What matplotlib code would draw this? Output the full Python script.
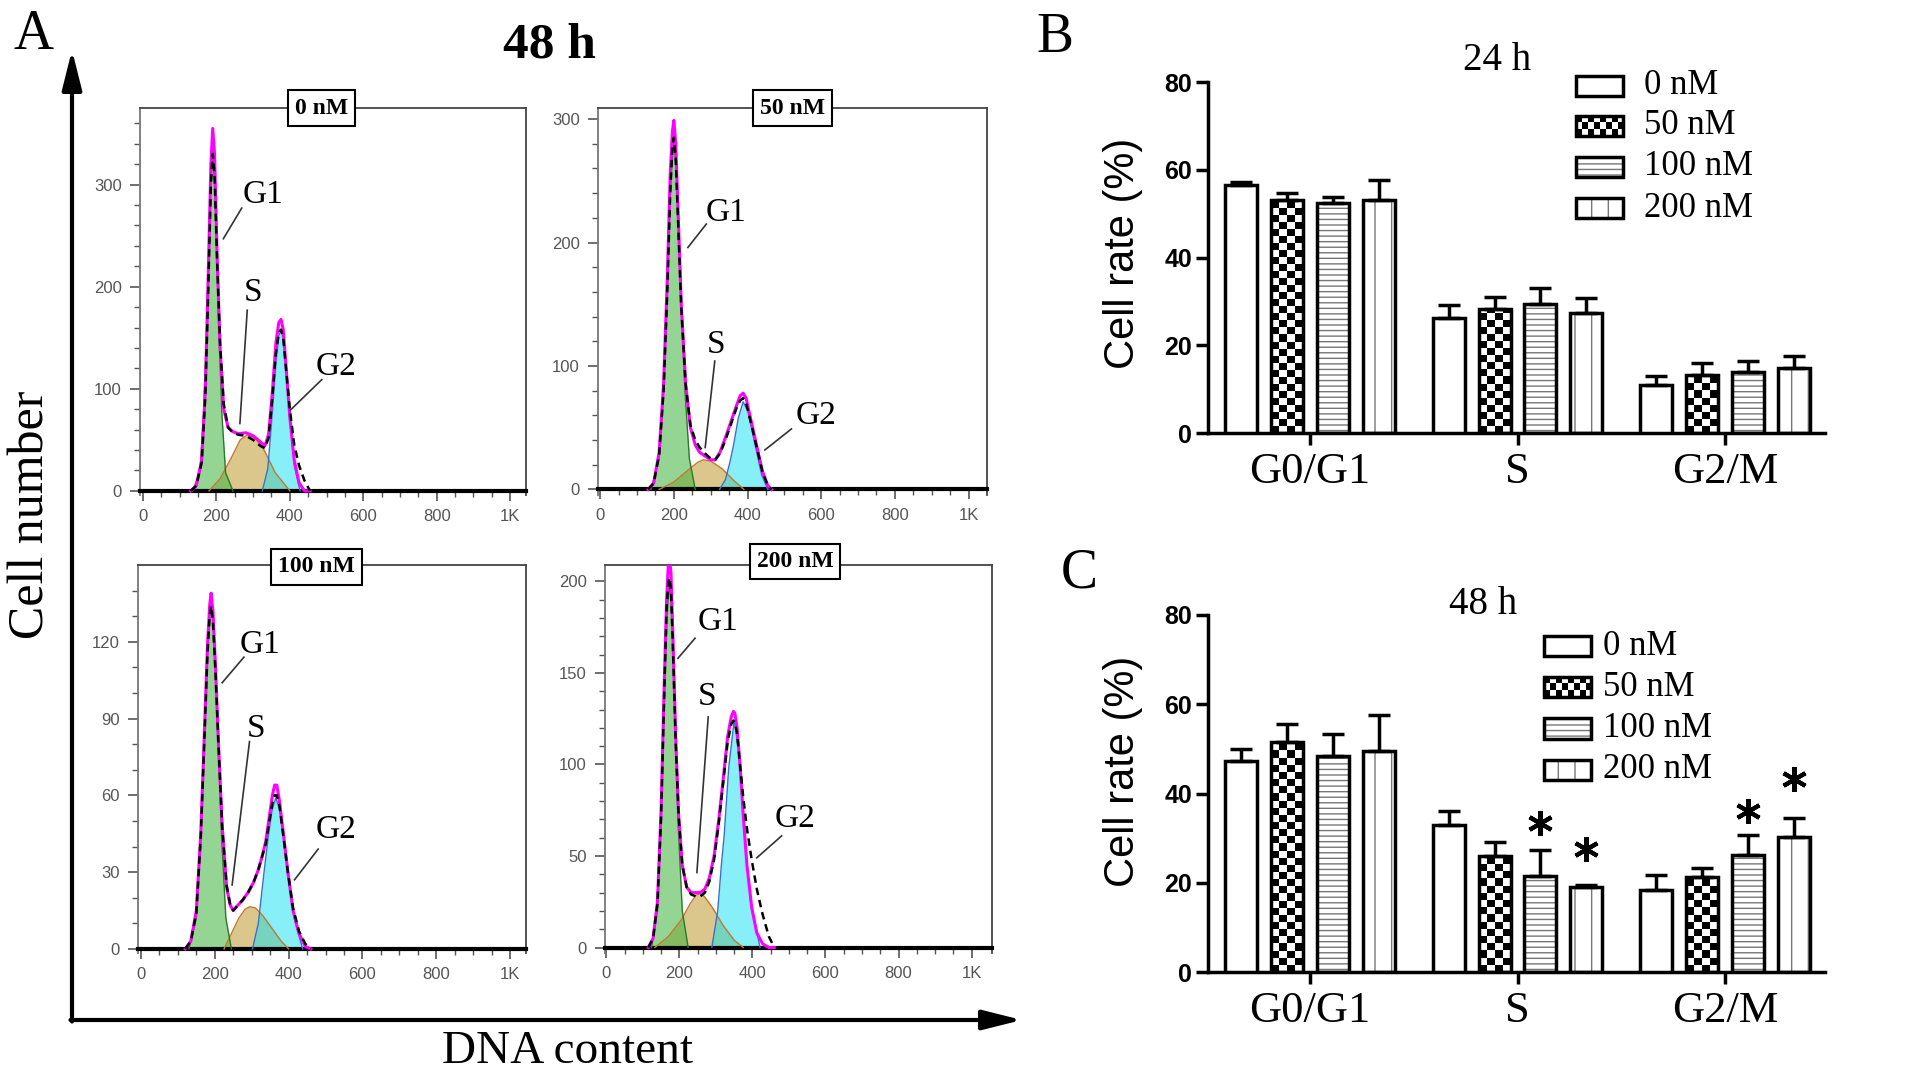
""" Cell cycle figure: flow cytometry histograms (A) and phase distribution bars (B, C) """

import numpy as np
import matplotlib.pyplot as plt
from matplotlib.patches import Rectangle

plt.rcParams['font.family'] = ['Liberation Serif', 'DejaVu Serif']
plt.rcParams['hatch.linewidth'] = 1.0
SANS = ['Liberation Sans', 'DejaVu Sans']

# ---------------- panel A: DNA histograms, 48 h ----------------
doses = ['0 nM', '50 nM', '100 nM', '200 nM']

# 0 nM
g1_x_0 = [135, 155, 165, 174, 182, 190, 198, 206, 215, 225, 245]
g1_y_0 = [0, 18, 75, 165, 280, 332, 280, 165, 75, 18, 0]
s_x_0 = [180, 210, 240, 265, 285, 305, 330, 360, 400]
s_y_0 = [0, 12, 32, 50, 55, 52, 40, 18, 0]
g2_x_0 = [325, 340, 352, 362, 370, 376, 383, 391, 400, 412, 428]
g2_y_0 = [0, 22, 75, 125, 152, 157, 148, 115, 70, 25, 0]
fit_x_0 = [130, 145, 160, 170, 178, 185, 190, 195, 202, 210, 220, 232, 245, 260, 280,
           300, 320, 332, 342, 352, 362, 370, 376, 382, 390, 400, 412, 425, 440, 455]
fit_y_0 = [0, 5, 30, 100, 215, 320, 355, 330, 230, 140, 80, 62, 58, 56, 57,
           54, 48, 44, 55, 95, 145, 165, 168, 158, 120, 72, 30, 8, 0, 0]
data_y_0 = [0, 5, 28, 95, 200, 300, 330, 310, 225, 145, 85, 62, 57, 55, 54,
            50, 44, 42, 52, 90, 135, 155, 158, 150, 118, 80, 45, 25, 10, 0]

# 50 nM
g1_x_1 = [138, 160, 172, 181, 190, 200, 210, 220, 230, 242, 258]
g1_y_1 = [0, 25, 80, 150, 240, 285, 240, 150, 80, 25, 0]
s_x_1 = [160, 200, 240, 265, 280, 300, 330, 360, 390]
s_y_1 = [0, 6, 16, 22, 24, 23, 17, 8, 0]
g2_x_1 = [324, 340, 352, 362, 375, 388, 400, 412, 422, 438, 455]
g2_y_1 = [0, 8, 22, 36, 58, 71, 64, 48, 34, 12, 0]
fit_x_1 = [130, 145, 160, 172, 182, 190, 196, 200, 205, 212, 220, 232, 245, 258, 270,
           285, 300, 312, 325, 340, 355, 370, 380, 388, 396, 410, 425, 440, 455, 465]
fit_y_1 = [0, 5, 30, 85, 170, 255, 290, 299, 280, 220, 150, 85, 50, 36, 30,
           27, 24, 24, 30, 42, 55, 68, 76, 78, 74, 55, 35, 15, 3, 0]
data_y_1 = [0, 5, 28, 80, 160, 240, 278, 285, 268, 212, 148, 85, 52, 40, 34,
            29, 25, 24, 29, 40, 53, 66, 72, 74, 70, 53, 34, 15, 3, 0]

# 100 nM
g1_x_2 = [130, 150, 162, 172, 182, 190, 198, 208, 218, 230, 245]
g1_y_2 = [0, 12, 45, 85, 122, 135, 122, 85, 45, 12, 0]
s_x_2 = [225, 245, 265, 282, 295, 310, 330, 355, 380, 400]
s_y_2 = [0, 6, 12, 15.5, 16.5, 16, 13, 8, 3, 0]
g2_x_2 = [302, 318, 333, 345, 355, 365, 375, 387, 398, 415, 438]
g2_y_2 = [0, 10, 29.5, 44, 54, 59, 55, 43, 29.5, 12, 0]
fit_x_2 = [120, 135, 150, 162, 172, 180, 186, 190, 195, 202, 210, 220, 232, 242, 250, 262, 275,
           290, 305, 318, 328, 338, 348, 356, 362, 368, 375, 385, 398, 412, 428, 445, 460]
fit_y_2 = [0, 3, 15, 45, 85, 118, 134, 139, 132, 110, 80, 48, 24, 17, 15, 17, 19,
           22, 26, 31, 36, 42, 52, 60, 64, 64, 58, 46, 30, 15, 6, 1, 0]
data_y_2 = [0, 3, 14, 44, 83, 115, 130, 134, 128, 108, 80, 48, 25, 17, 15, 17, 19,
            22, 26, 31, 36, 41, 50, 57, 60, 60, 56, 45, 30, 16, 7, 2, 0]

# 200 nM
g1_x_3 = [124, 140, 150, 158, 166, 173, 180, 188, 196, 208, 224]
g1_y_3 = [0, 20, 70, 130, 180, 200, 180, 130, 70, 20, 0]
s_x_3 = [133, 170, 205, 230, 245, 255, 268, 290, 320, 350, 375]
s_y_3 = [0, 6, 15, 24, 28.5, 29.5, 28, 22, 12, 4, 0]
g2_x_3 = [289, 305, 315, 323, 335, 350, 362, 372, 378, 395, 421]
g2_y_3 = [0, 20, 45, 62, 98, 124, 108, 80, 62, 25, 0]
fit_x_3 = [115, 128, 140, 150, 158, 165, 170, 173, 177, 183, 190, 198, 208, 220, 232, 245, 258, 270,
           282, 295, 308, 320, 332, 342, 348, 352, 358, 366, 375, 385, 398, 412, 428, 445, 460]
fit_y_3 = [0, 5, 25, 75, 140, 190, 210, 212, 205, 165, 115, 72, 45, 33, 30, 30, 30, 32,
           38, 50, 70, 92, 115, 126, 129, 128, 120, 100, 72, 45, 22, 8, 2, 0, 0]
data_y_3 = [0, 5, 24, 72, 135, 185, 200, 202, 196, 160, 112, 72, 45, 33, 29, 28, 28, 30,
            36, 48, 68, 90, 112, 122, 124, 123, 117, 100, 82, 65, 48, 32, 18, 6, 0]

# ---------------- panels B / C: phase distribution ----------------
phases = ['G0/G1', 'S', 'G2/M']

rate24_0 = [56.6, 26.3, 10.9]
rate24_50 = [53.2, 28.3, 13.3]
rate24_100 = [52.4, 29.5, 14.0]
rate24_200 = [53.2, 27.4, 14.9]
err24_0 = [0.7, 2.9, 2.2]
err24_50 = [1.6, 2.6, 2.6]
err24_100 = [1.5, 3.5, 2.3]
err24_200 = [4.4, 3.3, 2.7]

rate48_0 = [47.2, 33.0, 18.4]
rate48_50 = [51.5, 26.0, 21.4]
rate48_100 = [48.5, 21.6, 26.2]
rate48_200 = [49.6, 19.0, 30.2]
err48_0 = [2.8, 3.1, 3.4]
err48_50 = [4.0, 3.2, 1.8]
err48_100 = [4.8, 5.7, 4.4]
err48_200 = [8.1, 0.4, 4.3]

# significant bars at 48 h: (phase index, dose index, height of the star)
star_phase = [1, 1, 2, 2]
star_dose = [2, 3, 2, 3]
star_y = [33.4, 27.5, 36.1, 43.3]

W, H = 1913, 1075
PITCH = 0.221
BAR_W = 0.154
FILLS = [None, 'checker', '---', '|']


def rect(x0, y0, x1, y1):
    return [x0 / W, 1 - y1 / H, (x1 - x0) / W, (y1 - y0) / H]


def checker(ax, x0, x1, y0, ncol, nrow, cell_h, clip, transform=None, zorder=2):
    pattern = np.add.outer(np.arange(nrow), np.arange(ncol)) % 2
    kw = {} if transform is None else {'transform': transform}
    im = ax.imshow(pattern, cmap='gray', vmin=0, vmax=1, origin='lower',
                   extent=(x0, x1, y0, y0 + nrow * cell_h), aspect='auto',
                   interpolation='nearest', zorder=zorder, **kw)
    im.set_clip_path(clip)


def draw_hist(ax, curves, xlim, ylim, yticks, yminor, title, title_xy, labels):
    g1x, g1y, sx, sy, g2x, g2y, fx, fy, dy = curves
    ax.fill_between(sx, sy, color='#c9a94e', alpha=0.65, lw=0, zorder=2)
    ax.plot(sx, sy, color='#c07830', lw=1, zorder=3)
    ax.fill_between(g1x, g1y, color='#3cb43c', alpha=0.55, lw=0, zorder=2)
    ax.plot(g1x, g1y, color='#2a7a2a', lw=1, zorder=3)
    ax.fill_between(g2x, g2y, color='#10e0f0', alpha=0.5, lw=0, zorder=2)
    ax.plot(g2x, g2y, color='#3a70c8', lw=1, zorder=3)
    ax.plot(fx, fy, color='#ff00ff', lw=2.2, zorder=4)
    ax.plot(fx, dy, color='black', lw=1.8, dashes=(3, 2), zorder=5)

    for name, (txt, p0, p1) in labels.items():
        ax.text(*txt, name, ha='center', va='center', fontsize=24, zorder=6)
        ax.plot([p0[0], p1[0]], [p0[1], p1[1]], color='#333', lw=1.2, zorder=6)

    ax.set_xlim(*xlim)
    ax.set_ylim(*ylim)
    ax.set_xticks([0, 200, 400, 600, 800, 1000], ['0', '200', '400', '600', '800', '1K'])
    ax.set_xticks(np.arange(0, 1050, 50), minor=True)
    ax.set_yticks(yticks)
    ax.set_yticks(np.arange(0, ylim[1], yminor), minor=True)
    ax.tick_params(which='both', direction='out', color='#555', labelcolor='#555',
                   labelsize=12, labelfontfamily=SANS)
    ax.tick_params(which='major', length=7, width=1.2, pad=6)
    ax.tick_params(which='minor', length=4, width=1)
    ax.spines['bottom'].set_position(('data', 0))
    ax.spines['bottom'].set_color('black')
    ax.spines['bottom'].set_linewidth(3)
    ax.spines['left'].set_color('#777')
    for side in ['top', 'right']:
        ax.spines[side].set_color('#444')
    for side in ['left', 'top', 'right']:
        ax.spines[side].set_linewidth(1.3)
    ax.text(*title_xy, title, transform=ax.transAxes, ha='center', va='center',
            fontsize=17, fontweight='bold', zorder=7,
            bbox=dict(boxstyle='square,pad=0.3', fc='white', ec='black', lw=1.5))


def draw_bars(ax, rates, errs, leg_x, leg_y, text_x):
    for i in range(4):
        xs = np.arange(3) + (i - 1.5) * PITCH
        style = FILLS[i]
        if style == 'checker':
            base = ax.bar(xs, rates[i], BAR_W, color='white', lw=0, zorder=1)
            for patch in base.patches:
                nrow = int(np.ceil(patch.get_height() / 1.6))
                checker(ax, patch.get_x(), patch.get_x() + BAR_W, 0, 4, nrow, 1.6, patch)
        elif style is not None:
            ax.bar(xs, rates[i], BAR_W, color='white', hatch=style, edgecolor='#777',
                   lw=0, zorder=1)
        ax.bar(xs, rates[i], BAR_W, fill=(style is None), facecolor='white',
               edgecolor='black', lw=2.5, zorder=3)
        ax.errorbar(xs, rates[i], yerr=[np.zeros(3), errs[i]], fmt='none', ecolor='black',
                    elinewidth=2.5, capsize=8, capthick=2.5, zorder=4)

    # hand-built legend so the checker fill can be shown
    box_w, box_h = 0.0762, 0.058
    for i, name in enumerate(doses):
        y0 = leg_y[i] - box_h / 2
        style = FILLS[i]
        outline = Rectangle((leg_x, y0), box_w, box_h, transform=ax.transAxes,
                            fill=(style is None), facecolor='white', edgecolor='black',
                            lw=2.5, clip_on=False, zorder=6)
        if style == 'checker':
            back = Rectangle((leg_x, y0), box_w, box_h, transform=ax.transAxes,
                             facecolor='white', lw=0, clip_on=False, zorder=4)
            ax.add_patch(back)
            checker(ax, leg_x, leg_x + box_w, y0, 8, 3, box_h / 3, back,
                    transform=ax.transAxes, zorder=5)
        elif style is not None:
            ax.add_patch(Rectangle((leg_x, y0), box_w, box_h, transform=ax.transAxes,
                                   facecolor='white', hatch=style, edgecolor='#777',
                                   lw=0, clip_on=False, zorder=5))
        ax.add_patch(outline)
        ax.text(text_x, leg_y[i], name, transform=ax.transAxes, ha='left',
                va='center', fontsize=25)

    ax.set_xlim(-0.49, 2.48)
    ax.set_ylim(0, 80)
    ax.set_yticks([0, 20, 40, 60, 80])
    ax.set_xticks([0, 1, 2], phases)
    ax.tick_params(axis='y', labelsize=18, length=8.5, width=2.5, pad=3,
                   labelfontfamily=SANS)
    ax.tick_params(axis='x', labelsize=32, length=8.5, width=2.5, pad=5)
    for t in ax.get_yticklabels():
        t.set_fontweight('bold')
    ax.spines['top'].set_visible(False)
    ax.spines['right'].set_visible(False)
    ax.spines['left'].set_linewidth(2.5)
    ax.spines['bottom'].set_linewidth(2.5)
    ax.set_facecolor('none')


def main():
    fig = plt.figure(figsize=(W / 100, H / 100), dpi=100)

    # overlay in pixel units for the panel letters, big labels and arrows
    ov = fig.add_axes([0, 0, 1, 1])
    ov.set_xlim(0, W)
    ov.set_ylim(H, 0)
    ov.axis('off')
    head = dict(arrowstyle='-|>,head_length=0.6,head_width=0.15', lw=3,
                color='black', mutation_scale=40, shrinkA=0, shrinkB=0)
    ov.annotate('', xy=(72, 50), xytext=(72, 1021.5), arrowprops=head)
    ov.annotate('', xy=(1022, 1020), xytext=(70.5, 1020), arrowprops=head)
    ov.text(34, 35, 'A', ha='center', va='center', fontsize=40)
    ov.text(1055, 38, 'B', ha='center', va='center', fontsize=40)
    ov.text(1079, 573, 'C', ha='center', va='center', fontsize=40)
    ov.text(549, 46, '48 h', ha='center', va='center', fontsize=37, fontweight='bold')
    ov.text(31, 515, 'Cell number', ha='center', va='center', rotation=90, fontsize=36)
    ov.text(567, 1052, 'DNA content', ha='center', va='center', fontsize=34)
    ov.text(1497, 60, '24 h', ha='center', va='center', fontsize=28)
    ov.text(1483, 605, '48 h', ha='center', va='center', fontsize=28)

    curves = [
        (g1_x_0, g1_y_0, s_x_0, s_y_0, g2_x_0, g2_y_0, fit_x_0, fit_y_0, data_y_0),
        (g1_x_1, g1_y_1, s_x_1, s_y_1, g2_x_1, g2_y_1, fit_x_1, fit_y_1, data_y_1),
        (g1_x_2, g1_y_2, s_x_2, s_y_2, g2_x_2, g2_y_2, fit_x_2, fit_y_2, data_y_2),
        (g1_x_3, g1_y_3, s_x_3, s_y_3, g2_x_3, g2_y_3, fit_x_3, fit_y_3, data_y_3),
    ]
    # layout of the four histogram panels
    boxes = [(140, 108, 526, 495), (598, 108, 987, 495),
             (138, 565, 526, 953), (605, 565, 992, 953)]
    xlims = [(-8, 1043), (-6, 1050), (-8, 1043), (-3.6, 1056)]
    ylims = [(-4, 375), (-4.5, 309), (-1.6, 150), (-3, 209)]
    yticks = [[0, 100, 200, 300], [0, 100, 200, 300],
              [0, 30, 60, 90, 120], [0, 50, 100, 150, 200]]
    yminor = [20, 20, 10, 10]
    title_xy = [(0.471, 1.0), (0.499, 1.0), (0.459, 0.995), (0.491, 1.01)]
    labels = [
        {'G1': ((328, 290), (269, 277), (219, 247)),
         'S': ((300, 194), (284, 177), (264, 66)),
         'G2': ((527, 122), (487, 109), (401, 79))},
        {'G1': ((342, 224), (288, 215), (238, 196)),
         'S': ((315, 117), (311, 104), (285, 34)),
         'G2': ((587, 60), (519, 49), (447, 32))},
        {'G1': ((322, 119), (279, 114), (220, 104)),
         'S': ((312, 86), (294, 81), (247, 25)),
         'G2': ((529, 46.5), (480, 39), (416, 27))},
        {'G1': ((307, 178), (243, 169), (196, 158)),
         'S': ((275, 137), (279, 126), (248, 41)),
         'G2': ((517, 70.5), (480, 61), (412, 49))},
    ]
    for k in range(4):
        ax = fig.add_axes(rect(*boxes[k]))
        draw_hist(ax, curves[k], xlims[k], ylims[k], yticks[k], yminor[k],
                  doses[k], title_xy[k], labels[k])

    axb = fig.add_axes(rect(1208, 82, 1825, 433))
    draw_bars(axb, [rate24_0, rate24_50, rate24_100, rate24_200],
              [err24_0, err24_50, err24_100, err24_200],
              0.596, [0.989, 0.875, 0.758, 0.641], 0.707)
    axb.text(-0.138, 0.513, 'Cell rate (%)', transform=axb.transAxes, rotation=90,
             ha='center', va='center', fontsize=30, family=SANS)

    axc = fig.add_axes(rect(1208, 615, 1825, 972))
    draw_bars(axc, [rate48_0, rate48_50, rate48_100, rate48_200],
              [err48_0, err48_50, err48_100, err48_200],
              0.545, [0.913, 0.798, 0.683, 0.566], 0.640)
    axc.text(-0.138, 0.563, 'Cell rate (%)', transform=axc.transAxes, rotation=90,
             ha='center', va='center', fontsize=30, family=SANS)
    for p, d, y in zip(star_phase, star_dose, star_y):
        axc.plot(p + (d - 1.5) * PITCH, y, marker=(6, 2, 0), ms=18, mew=3,
                 color='black', zorder=6)

    fig.savefig('out.png', dpi=100)


if __name__ == '__main__':
    main()
